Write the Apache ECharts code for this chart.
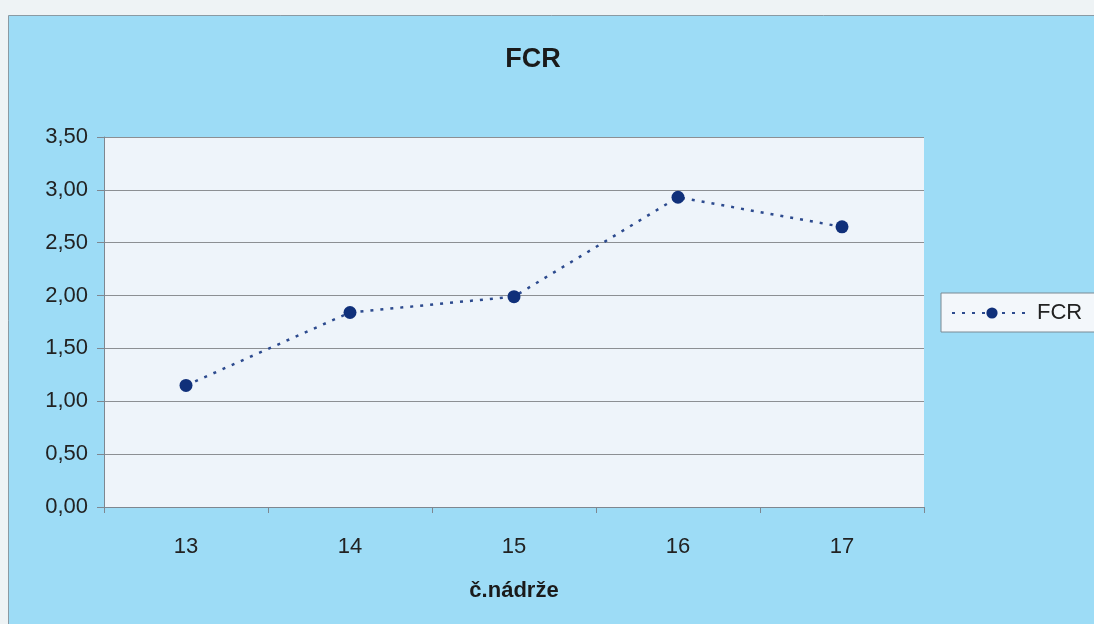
<!DOCTYPE html>
<html>
<head>
<meta charset="utf-8">
<script src="https://cdn.jsdelivr.net/npm/echarts@6/dist/echarts.min.js"></script>
<style>
  html, body { margin: 0; padding: 0; background: #eef3f5; }
  #chart { width: 1094px; height: 624px; }
</style>
</head>
<body>
<div id="chart"></div>
<script>
// Tank numbers and feed conversion ratio per tank
const tanks = ['13', '14', '15', '16', '17'];
const fcrValues = [1.15, 1.84, 1.99, 2.93, 2.65];
const seriesName = 'FCR';
const chartTitle = 'FCR';
const xAxisTitle = 'č.nádrže';

const fmt = v => v.toFixed(2).replace('.', ',');

const chart = echarts.init(document.getElementById('chart'), null, { renderer: 'canvas' });
const font = '"Liberation Sans", Arial, sans-serif';

chart.setOption({
  animation: false,
  backgroundColor: '#eef3f5',
  graphic: [{
    type: 'rect',
    z: -10,
    shape: { x: 8.5, y: 15.5, width: 1100, height: 620 },
    style: { fill: '#9ddcf6', stroke: '#8a9aa3', lineWidth: 1 }
  }],
  title: {
    text: chartTitle,
    left: 528, top: 41, textAlign: 'center',
    textStyle: { fontFamily: font, fontSize: 27, fontWeight: 'bold', color: '#1a1a1a' }
  },
  legend: {
    data: [seriesName],
    left: 941, top: 293,
    orient: 'vertical',
    backgroundColor: '#f3f7fb',
    borderColor: '#7b8a94', borderWidth: 1, borderRadius: 0,
    padding: [9, 14, 8, 10],
    itemWidth: 80, itemHeight: 14, itemGap: 6,
    textStyle: { fontFamily: font, fontSize: 22, color: '#222' }
  },
  grid: {
    left: 104, right: 170, top: 137, bottom: 117,
    show: true, backgroundColor: '#eef4fa', borderWidth: 0
  },
  xAxis: {
    type: 'category',
    data: tanks,
    boundaryGap: true,
    name: xAxisTitle,
    nameLocation: 'middle',
    nameGap: 73,
    nameTextStyle: { fontFamily: font, fontSize: 22, fontWeight: 'bold', color: '#1a1a1a' },
    axisLine: { lineStyle: { color: '#7e8790', width: 1 } },
    axisTick: { show: true, alignWithLabel: false, length: 6, lineStyle: { color: '#7e8790' } },
    axisLabel: { fontFamily: font, fontSize: 22, color: '#222', margin: 29 },
    splitLine: { show: false }
  },
  yAxis: {
    type: 'value',
    min: 0, max: 3.5, interval: 0.5,
    axisLine: { show: true, lineStyle: { color: '#7e8790', width: 1 } },
    axisTick: { show: true, length: 7, lineStyle: { color: '#7e8790' } },
    axisLabel: { fontFamily: font, fontSize: 22, color: '#222', margin: 16, formatter: fmt },
    splitLine: { show: true, lineStyle: { color: '#8c8f93', width: 1 } }
  },
  series: [{
    name: seriesName,
    type: 'line',
    data: fcrValues,
    symbol: 'circle',
    symbolSize: 13,
    itemStyle: { color: '#10307a' },
    lineStyle: { color: '#2c4a8e', width: 2.5, type: [3, 7] }
  }]
});
</script>
</body>
</html>
